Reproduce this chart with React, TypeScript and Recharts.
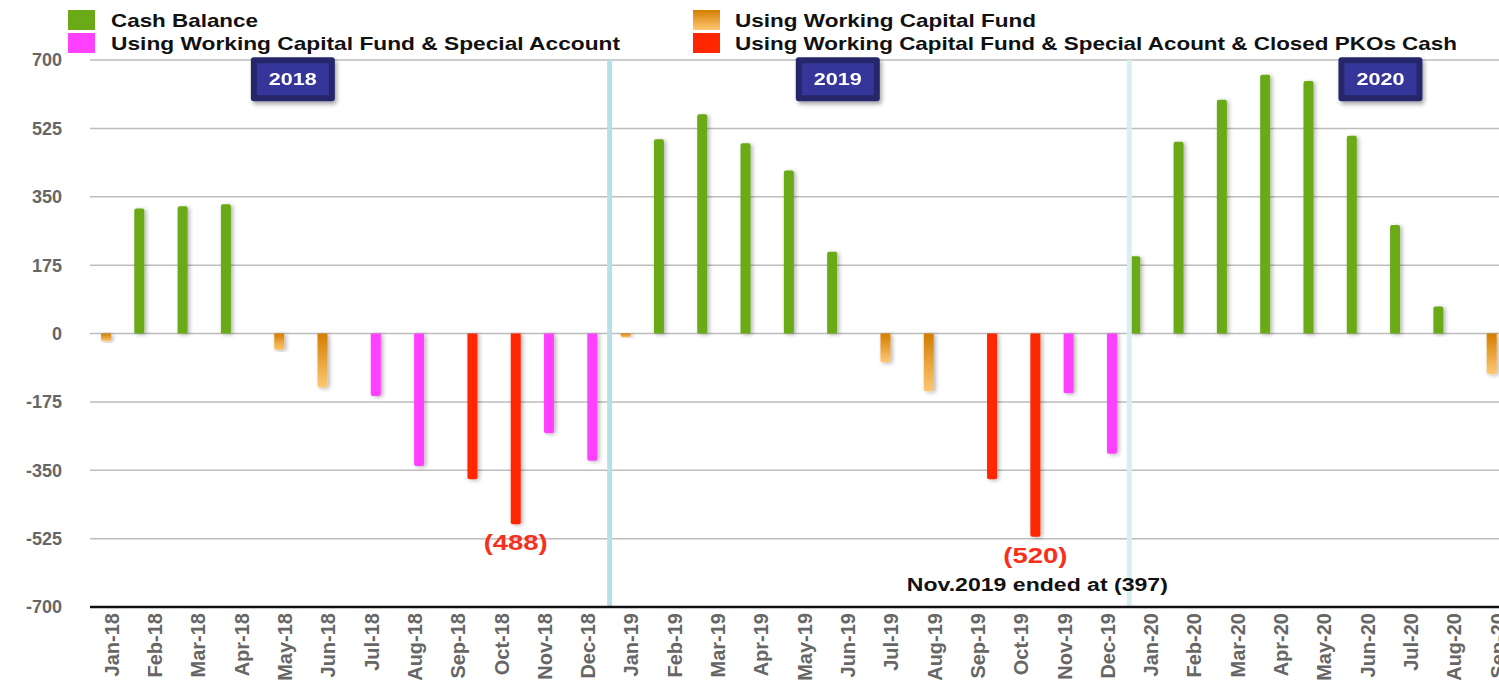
import {
  BarChart,
  Bar,
  XAxis,
  YAxis,
  CartesianGrid,
  ReferenceLine,
  ReferenceDot,
  LabelList,
} from "recharts";

const months = [
  "Jan-18", "Feb-18", "Mar-18", "Apr-18", "May-18", "Jun-18", "Jul-18", "Aug-18", "Sep-18", "Oct-18", "Nov-18", "Dec-18",
  "Jan-19", "Feb-19", "Mar-19", "Apr-19", "May-19", "Jun-19", "Jul-19", "Aug-19", "Sep-19", "Oct-19", "Nov-19", "Dec-19",
  "Jan-20", "Feb-20", "Mar-20", "Apr-20", "May-20", "Jun-20", "Jul-20", "Aug-20", "Sep-20",
];

const n = null;
const cashBalance = [n, 320, 326, 331, n, n, n, n, n, n, n, n, n, 497, 561, 487, 417, 209, n, n, n, n, n, n, 198, 491, 598, 662, 646, 506, 278, 69, n];
const workingCapital = [-20, n, n, n, -42, -138, n, n, n, n, n, n, -10, n, n, n, n, n, -74, -148, n, n, n, n, n, n, n, n, n, n, n, n, -104];
const withSpecial = [n, n, n, n, n, n, -160, -339, n, n, -255, -326, n, n, n, n, n, n, n, n, n, n, -153, -308, n, n, n, n, n, n, n, n, n];
const withClosedPKO = [n, n, n, n, n, n, n, n, -373, -488, n, n, n, n, n, n, n, n, n, n, -373, -520, n, n, n, n, n, n, n, n, n, n, n];

// notes under the red bars, keyed by month
const redNotes: Record<string, string> = { "Oct-18": "(488)", "Oct-19": "(520)" };
const subNotes: Record<string, string> = { "Oct-19": "Nov.2019 ended at (397)" };

const yTicks = [-700, -525, -350, -175, 0, 175, 350, 525, 700];

const years = [
  { label: "2018", month: "May-18", dx: 8 },
  { label: "2019", month: "Jun-19", dx: -10 },
  { label: "2020", month: "Jun-20", dx: 13 },
];

const data = months.map((m, i) => ({
  month: m,
  cash: cashBalance[i],
  wcf: workingCapital[i],
  special: withSpecial[i],
  closed: withClosedPKO[i],
  note: redNotes[m] ?? "",
}));

const FONT = "'Liberation Sans', Arial, sans-serif";

const MonthTick = ({ x, y, payload }: any) => (
  <text
    x={x}
    y={y}
    transform={`rotate(-90 ${x} ${y})`}
    textAnchor="end"
    dy="0.36em"
    fontFamily={FONT}
    fontWeight="bold"
    fontSize={20}
    fill="#666"
  >
    {payload.value}
  </text>
);

const YearBadge = ({ cx, cy, label, dx }: any) => {
  const w = 84;
  const h = 44;
  const x = cx + dx - w / 2;
  const y = cy - h / 2;
  return (
    <g filter="url(#badgeShadow)">
      <rect x={x} y={y} width={w} height={h} rx={3} fill="#25276b" />
      <rect x={x + 6} y={y + 6} width={w - 12} height={h - 12} fill="#34369a" />
      <text
        x={x + w / 2}
        y={y + h / 2 + 6}
        textAnchor="middle"
        fontFamily={FONT}
        fontWeight="bold"
        fontSize={16}
        fill="#fff"
        textLength={48}
        lengthAdjust="spacingAndGlyphs"
      >
        {label}
      </text>
    </g>
  );
};

const RedNote = (props: any) => {
  const vb = props.viewBox ?? props;
  const x = vb.x ?? props.x;
  const y = vb.y ?? props.y;
  const width = vb.width ?? props.width ?? 0;
  const height = vb.height ?? props.height ?? 0;
  const note = props.value;
  if (!note || x == null || y == null) return null;
  const m = months.find((mm) => redNotes[mm] === note) as string;
  const bottom = Math.max(y, y + height);
  const cx = x + width / 2;
  const sub = subNotes[m];
  return (
    <g>
      <text
        x={cx}
        y={bottom + 26}
        textAnchor="middle"
        fontFamily={FONT}
        fontWeight="bold"
        fontSize={22}
        fill="#f5301c"
        textLength={64}
        lengthAdjust="spacingAndGlyphs"
      >
        {note}
      </text>
      {sub && (
        <text
          x={cx + 2}
          y={bottom + 54}
          textAnchor="middle"
          fontFamily={FONT}
          fontWeight="bold"
          fontSize={18}
          fill="#111"
          textLength={261}
          lengthAdjust="spacingAndGlyphs"
        >
          {sub}
        </text>
      )}
    </g>
  );
};

const legendItems = [
  { label: "Cash Balance", fill: "#6aaa16", x: 68, y: 10, tx: 111, width: 147 },
  { label: "Using Working Capital Fund & Special Account", fill: "#ff40ff", x: 68, y: 33, tx: 111, width: 509 },
  { label: "Using Working Capital Fund", fill: "url(#orangeGrad)", x: 693, y: 10, tx: 735, width: 301 },
  { label: "Using Working Capital Fund & Special Acount & Closed PKOs Cash", fill: "#ff2600", x: 693, y: 33, tx: 735, width: 722 },
];

const ChartLegend = () => (
  <g>
    {legendItems.map((it) => (
      <g key={it.label}>
        <rect x={it.x} y={it.y} width={27} height={20} fill={it.fill} />
        <text
          x={it.tx}
          y={it.y + 17}
          fontFamily={FONT}
          fontWeight="bold"
          fontSize={19}
          fill="#111"
          textLength={it.width}
          lengthAdjust="spacingAndGlyphs"
        >
          {it.label}
        </text>
      </g>
    ))}
  </g>
);

export default function App() {
  return (
    <div style={{ position: "absolute", left: 0, top: 0, width: 1499, height: 686, overflow: "hidden", background: "#fff" }}>
      <BarChart
        width={1520}
        height={686}
        data={data}
        margin={{ top: 60, right: 1, bottom: 4, left: 0 }}
        barCategoryGap={1}
        barGap={0}
      >
        <defs>
          <linearGradient id="orangeGrad" x1="0" y1="0" x2="0" y2="1">
            <stop offset="0%" stopColor="#d47d00" />
            <stop offset="100%" stopColor="#fdc874" />
          </linearGradient>
          <filter id="barShadow" x="-60%" y="-10%" width="220%" height="120%">
            <feDropShadow dx="2" dy="1" stdDeviation="2" floodColor="#000" floodOpacity="0.3" />
          </filter>
          <filter id="badgeShadow" x="-20%" y="-20%" width="140%" height="150%">
            <feDropShadow dx="2" dy="3" stdDeviation="2" floodColor="#000" floodOpacity="0.35" />
          </filter>
        </defs>
        <CartesianGrid vertical={false} stroke="#bdbdbd" strokeWidth={1.5} />
        <XAxis
          dataKey="month"
          interval={0}
          tickLine={false}
          tickSize={0}
          tickMargin={6}
          height={75}
          axisLine={{ stroke: "#111", strokeWidth: 2.5 }}
          tick={<MonthTick />}
        />
        <YAxis
          domain={[-700, 700]}
          ticks={yTicks}
          width={90}
          axisLine={false}
          tickLine={false}
          tickSize={0}
          tickMargin={28}
          tick={{ fill: "#666", fontFamily: FONT, fontWeight: "bold", fontSize: 18 }}
        />
        <ReferenceLine x="Jan-19" position="start" stroke="#b7dfe5" strokeWidth={5} />
        <ReferenceLine x="Jan-20" position="start" stroke="#d8eef1" strokeWidth={5} />
        <Bar dataKey="cash" fill="#6aaa16" radius={[2, 2, 0, 0]} filter="url(#barShadow)" isAnimationActive={false} />
        <Bar dataKey="wcf" fill="url(#orangeGrad)" radius={[2, 2, 0, 0]} filter="url(#barShadow)" isAnimationActive={false} />
        <Bar dataKey="special" fill="#ff40ff" radius={[2, 2, 0, 0]} filter="url(#barShadow)" isAnimationActive={false} />
        <Bar dataKey="closed" fill="#ff2600" radius={[2, 2, 0, 0]} filter="url(#barShadow)" isAnimationActive={false}>
          <LabelList dataKey="note" content={<RedNote />} />
        </Bar>
        {years.map((yr) => (
          <ReferenceDot
            key={yr.label}
            x={yr.month}
            y={651}
            r={1}
            shape={(p: any) => <YearBadge {...p} label={yr.label} dx={yr.dx} />}
          />
        ))}
        <ChartLegend />
      </BarChart>
    </div>
  );
}
